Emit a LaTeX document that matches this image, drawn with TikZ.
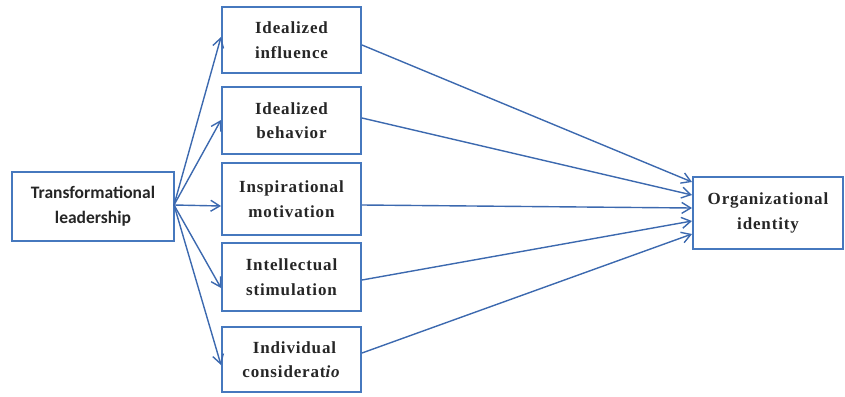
\documentclass[tikz,border=0pt]{standalone}
\usepackage{fontspec}
\setmainfont{Liberation Serif}[LetterSpace=5]
\newfontfamily\lsans{Carlito}
\usetikzlibrary{arrows.meta}
\definecolor{boxblue}{RGB}{70,120,190}
\definecolor{lineblue}{RGB}{60,105,175}
\begin{document}
\begin{tikzpicture}[x=1pt,y=-1pt,
  bx/.style={draw=boxblue,line width=2.8pt,fill=white,align=center,inner sep=0pt,
    font=\fontsize{17}{24.5}\selectfont\bfseries,text=black!85},
  conn/.style={draw=lineblue,line width=1.4pt,-{Straight Barb[length=9pt,width=11pt,line width=1.4pt]}}]
\useasboundingbox (0,0) rectangle (845,396);
\node[bx,minimum width=162pt,minimum height=69pt,font=\lsans\fontsize{17.5}{25}\selectfont\bfseries] (tl) at (93,206.5) {Transformational\\leadership};
\node[bx,minimum width=139pt,minimum height=66pt] (b1) at (291.5,40) {Idealized\\influence};
\node[bx,minimum width=139pt,minimum height=67pt] (b2) at (291.5,120.5) {Idealized\\behavior};
\node[bx,minimum width=139pt,minimum height=72pt] (b3) at (291.5,199) {Inspirational\\motivation};
\node[bx,minimum width=139pt,minimum height=68pt] (b4) at (291.5,277) {Intellectual\\stimulation};
\node[bx,minimum width=139pt,minimum height=65pt] (b5) at (291.5,359.5) {\hspace*{6pt}Individual\\considerat\textit{io}};
\node[bx,minimum width=150pt,minimum height=72pt] (oi) at (768,213) {Organizational\\identity};
% start / end coordinates
\coordinate (s0) at (174,205);
\coordinate (e1) at (221,37);
\coordinate (e2) at (221,120);
\coordinate (e3) at (221,206);
\coordinate (e4) at (221,288);
\coordinate (e5) at (221,365);
\draw[conn] (s0) -- (e1);
\draw[conn] (s0) -- (e2);
\draw[conn] (s0) -- (e3);
\draw[conn] (s0) -- (e4);
\draw[conn] (s0) -- (e5);
\coordinate (r1) at (362,45);
\coordinate (r2) at (362,118);
\coordinate (r3) at (362,205);
\coordinate (r4) at (362,280);
\coordinate (r5) at (362,353);
\coordinate (t1) at (692,182);
\coordinate (t2) at (692,195);
\coordinate (t3) at (692,208);
\coordinate (t4) at (692,221);
\coordinate (t5) at (692,234);
\draw[conn] (r1) -- (t1);
\draw[conn] (r2) -- (t2);
\draw[conn] (r3) -- (t3);
\draw[conn] (r4) -- (t4);
\draw[conn] (r5) -- (t5);
\end{tikzpicture}
\end{document}
